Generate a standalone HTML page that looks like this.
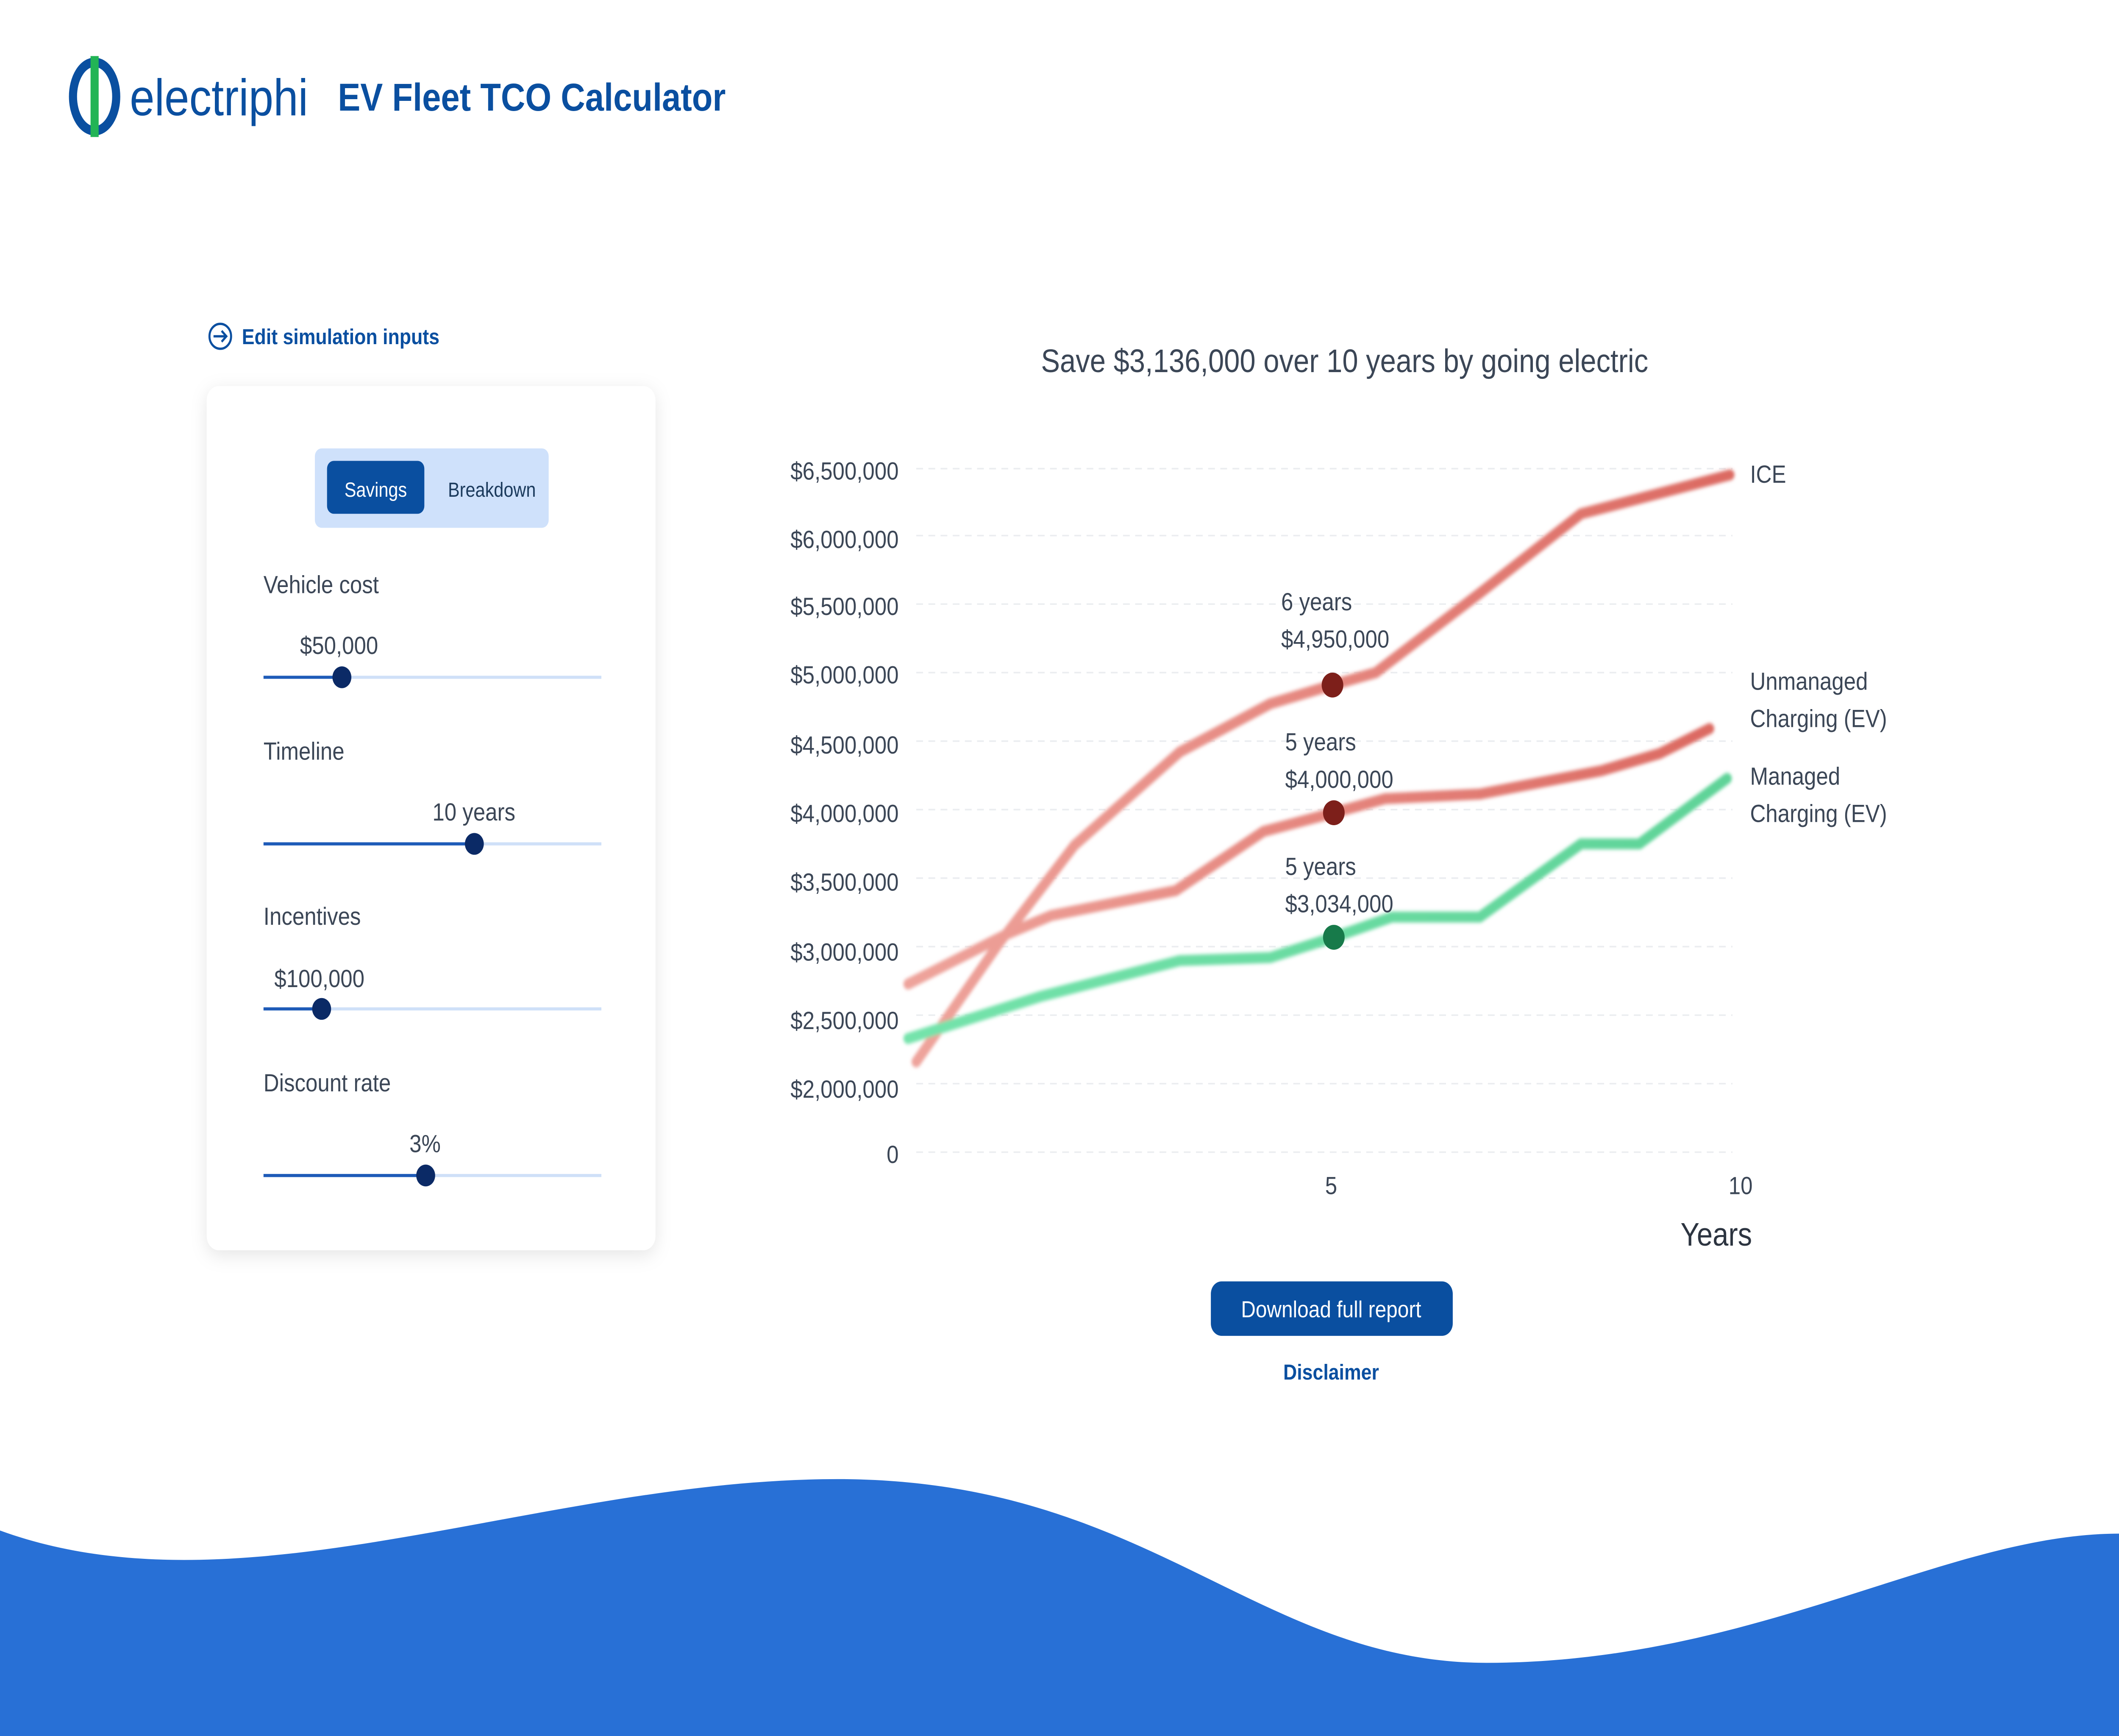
<!DOCTYPE html>
<html><head><meta charset="utf-8"><style>html,body{margin:0;padding:0;background:#fff;width:100%;height:100%;overflow:hidden;}svg{display:block;width:100vw;height:100vh;}</style></head>
<body>
<svg viewBox="0 0 1568 1115" preserveAspectRatio="none" xmlns="http://www.w3.org/2000/svg" font-family="Liberation Sans, sans-serif">
<defs>
<filter id="sh" x="-20%" y="-20%" width="140%" height="140%"><feDropShadow dx="0" dy="3" stdDeviation="6" flood-color="#000" flood-opacity="0.10"/></filter>
<filter id="bl" x="-10%" y="-10%" width="120%" height="120%"><feGaussianBlur stdDeviation="1.2"/></filter>
<linearGradient id="gi" x1="0" x2="1" y1="0" y2="0"><stop offset="0" stop-color="#eea39b"/><stop offset="1" stop-color="#dc6a62"/></linearGradient>
<linearGradient id="gg" x1="0" x2="1"><stop offset="0" stop-color="#74e3ab"/><stop offset="1" stop-color="#5fd398"/></linearGradient>
</defs>
<ellipse cx="70" cy="62" rx="16" ry="22" fill="none" stroke="#0a4fa0" stroke-width="6"/>
<rect x="67" y="36" width="6" height="52" fill="#22b455"/>
<text x="96" y="74" font-size="33" fill="#0a4fa0" font-weight="300" textLength="132" lengthAdjust="spacingAndGlyphs">electriphi</text>
<text x="250" y="71" font-size="25" fill="#0a4fa0" font-weight="bold" textLength="287" lengthAdjust="spacingAndGlyphs">EV Fleet TCO Calculator</text>
<circle cx="163" cy="216" r="8" fill="none" stroke="#0a4fa0" stroke-width="1.5"/>
<path d="M158,216 h9 M164,212.5 l3.5,3.5 l-3.5,3.5" fill="none" stroke="#0a4fa0" stroke-width="1.5"/>
<text x="179" y="221" font-size="14" fill="#0a4fa0" font-weight="bold">Edit simulation inputs</text>
<rect x="153" y="248" width="332" height="555" rx="9" fill="#fff" filter="url(#sh)"/>
<rect x="233" y="288" width="173" height="51" rx="5" fill="#cfe1fb"/>
<rect x="242" y="296" width="72" height="34" rx="5" fill="#0a4fa0"/>
<text x="278" y="319" font-size="13" fill="#fff" text-anchor="middle">Savings</text>
<text x="364" y="319" font-size="13" fill="#1b3a5c" text-anchor="middle">Breakdown</text>
<g font-size="16" fill="#3b4656">
<text x="195" y="381">Vehicle cost</text>
<text x="222" y="420">$50,000</text>
<text x="195" y="488">Timeline</text>
<text x="320" y="527">10 years</text>
<text x="195" y="594">Incentives</text>
<text x="203" y="634">$100,000</text>
<text x="195" y="701">Discount rate</text>
<text x="303" y="740">3%</text>
</g>
<g stroke-width="2">
<line x1="195" y1="435" x2="445" y2="435" stroke="#cfe0f8"/><line x1="195" y1="435" x2="253" y2="435" stroke="#1e5bb8"/>
<line x1="195" y1="542" x2="445" y2="542" stroke="#cfe0f8"/><line x1="195" y1="542" x2="351" y2="542" stroke="#1e5bb8"/>
<line x1="195" y1="648" x2="445" y2="648" stroke="#cfe0f8"/><line x1="195" y1="648" x2="238" y2="648" stroke="#1e5bb8"/>
<line x1="195" y1="755" x2="445" y2="755" stroke="#cfe0f8"/><line x1="195" y1="755" x2="315" y2="755" stroke="#1e5bb8"/>
</g>
<g fill="#0b2a66"><circle cx="253" cy="435" r="7"/><circle cx="351" cy="542" r="7"/><circle cx="238" cy="648" r="7"/><circle cx="315" cy="755" r="7"/></g>
<text x="995" y="239" font-size="21" fill="#3b4656" text-anchor="middle">Save $3,136,000 over 10 years by going electric</text>
<g stroke="#ebedf0" stroke-width="1" stroke-dasharray="5,4">
<line x1="678" y1="301" x2="1282" y2="301"/><line x1="678" y1="344" x2="1282" y2="344"/><line x1="678" y1="388" x2="1282" y2="388"/><line x1="678" y1="432" x2="1282" y2="432"/><line x1="678" y1="476" x2="1282" y2="476"/><line x1="678" y1="520" x2="1282" y2="520"/><line x1="678" y1="564" x2="1282" y2="564"/><line x1="678" y1="608" x2="1282" y2="608"/><line x1="678" y1="652" x2="1282" y2="652"/><line x1="678" y1="696" x2="1282" y2="696"/><line x1="678" y1="740" x2="1282" y2="740"/>
</g>
<g font-size="16" fill="#3b4656" text-anchor="end">
<text x="665" y="308">$6,500,000</text><text x="665" y="352">$6,000,000</text><text x="665" y="395">$5,500,000</text><text x="665" y="439">$5,000,000</text><text x="665" y="484">$4,500,000</text><text x="665" y="528">$4,000,000</text><text x="665" y="572">$3,500,000</text><text x="665" y="617">$3,000,000</text><text x="665" y="661">$2,500,000</text><text x="665" y="705">$2,000,000</text><text x="665" y="747">0</text>
</g>
<g font-size="16" fill="#3b4656" text-anchor="middle"><text x="985" y="767">5</text><text x="1288" y="767">10</text></g>
<text x="1270" y="800" font-size="21" fill="#2c3440" text-anchor="middle">Years</text>
<g fill="none" stroke-width="7" stroke-linecap="round" stroke-linejoin="round" filter="url(#bl)">
<polyline stroke="url(#gi)" points="678,682 740,605 795,543 873,483 940,452 986,440 1018,432 1095,381 1170,330 1280,305"/>
<polyline stroke="url(#gi)" points="672,632 745,600 778,588 870,572 935,534 987,522 1025,513 1095,510 1185,495 1228,484 1265,468"/>
<polyline stroke="url(#gg)" points="672,667 770,640 873,617 940,615 987,602 1030,589 1095,589 1170,542 1213,542 1278,500"/>
</g>
<circle cx="986" cy="440" r="8" fill="#7d1f1a"/><circle cx="987" cy="522" r="8" fill="#7d1f1a"/><circle cx="987" cy="602" r="8" fill="#177a4a"/>
<g font-size="16" fill="#3b4656">
<text x="948" y="392">6 years</text><text x="948" y="416">$4,950,000</text>
<text x="951" y="482">5 years</text><text x="951" y="506">$4,000,000</text>
<text x="951" y="562">5 years</text><text x="951" y="586">$3,034,000</text>
<text x="1295" y="310">ICE</text>
<text x="1295" y="443">Unmanaged</text><text x="1295" y="467">Charging (EV)</text>
<text x="1295" y="504">Managed</text><text x="1295" y="528">Charging (EV)</text>
</g>
<rect x="896" y="823" width="179" height="35" rx="8" fill="#0a4fa0"/>
<text x="985" y="846" font-size="15" fill="#fff" text-anchor="middle">Download full report</text>
<text x="985" y="886" font-size="14" fill="#0a4fa0" font-weight="bold" text-anchor="middle">Disclaimer</text>
<path d="M0,983 C180,1040 400,950 620,950 C850,950 930,1068 1100,1068 C1300,1068 1440,985 1568,985 L1568,1115 L0,1115 Z" fill="#2870d6"/>
</svg>
</body></html>
